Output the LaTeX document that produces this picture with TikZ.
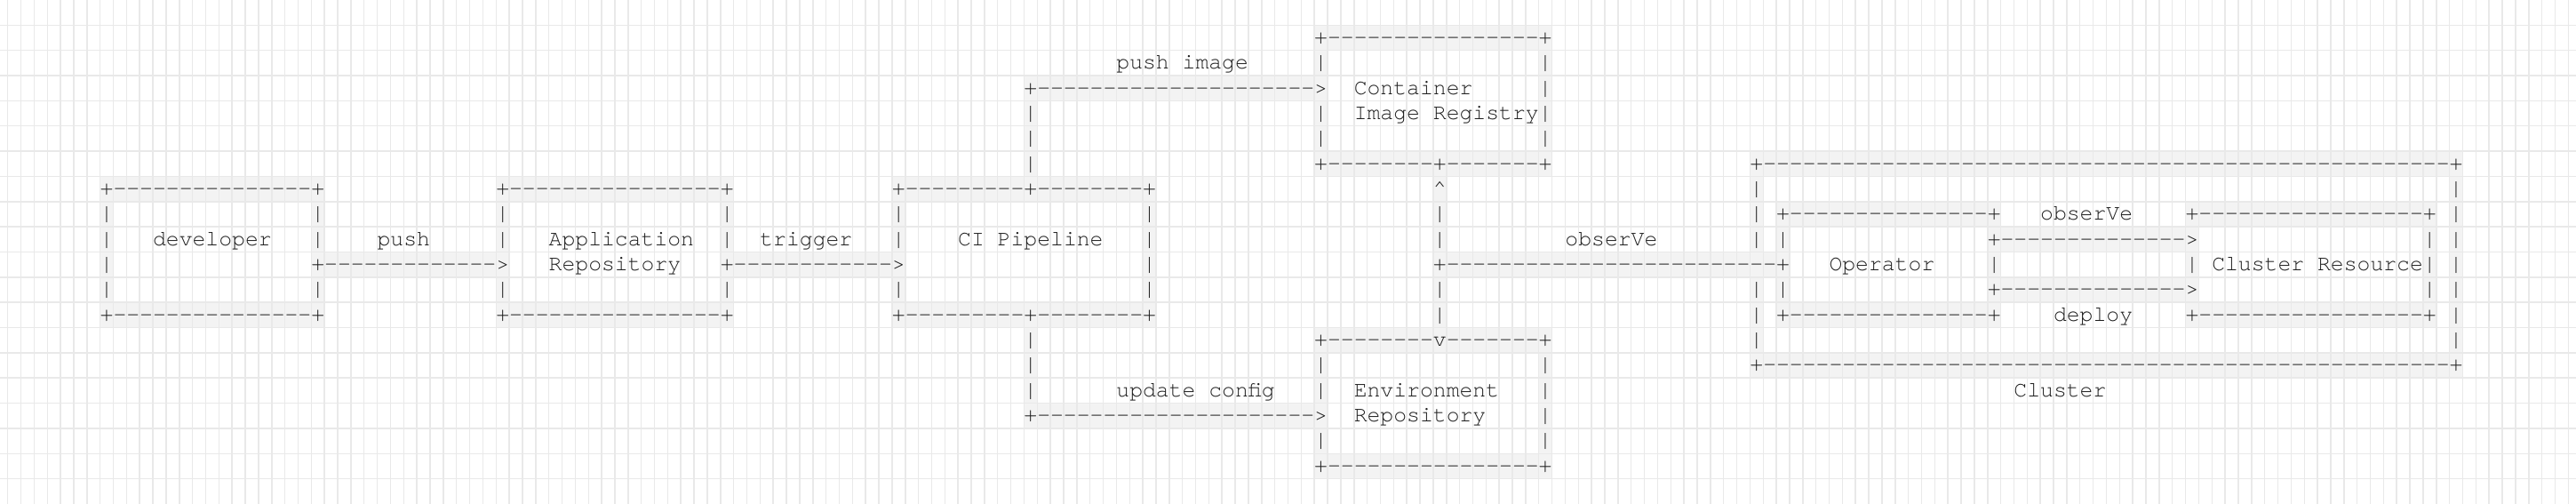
\documentclass[tikz,border=0pt]{standalone}
\usepackage{fontspec}
\setmonofont{texgyrecursor-regular.otf}
\definecolor{gridc}{HTML}{E9E9E9}
\definecolor{cellc}{HTML}{F3F3F3}
\definecolor{inkc}{HTML}{1E1E1E}
\tikzset{
  asch/.style={anchor=base, inner sep=0pt, outer sep=0pt, text=inkc,
    font=\ttfamily\fontsize{24.757pt}{28pt}\selectfont},
  aslbl/.style={anchor=base west, inner sep=0pt, outer sep=0pt, text=inkc,
    font=\ttfamily\fontsize{24.757pt}{28pt}\selectfont},
  cellfill/.style={fill=cellc},
  gridline/.style={draw=gridc, line width=1.5pt}
}
% pass 1: cell backgrounds; pass 2: characters and labels
\newcommand{\ascellfill}[3]{\fill[cellfill] (#2,#1) rectangle ++(1,1);}
\newcommand{\ascellchar}[3]{\node[asch, name=a#1x#2] at (#2+0.5,#1+0.741) {#3};}
\newcommand{\ascell}{}
\newcommand{\aslabel}{}
\newcommand{\aslabeltext}[4]{\node[aslbl] (#1) at (#3,#2+0.741) {#4};}
\newcommand{\aslabelnone}[4]{}
% horizontal run of dashes: row, first col, last col
\newcommand{\ashrun}[3]{\foreach \k in {#2,...,#3}{\ascell{#1}{\k}{-}}}
% vertical run of bars: col, first row, last row
\newcommand{\asvrun}[3]{\foreach \k in {#2,...,#3}{\ascell{\k}{#1}{|}}}
\newcommand{\artbody}{%
% ---- Container Image Registry
\ascell{-6}{92}{+}\ashrun{-6}{93}{108}\ascell{-6}{109}{+}%
\ascell{-5}{92}{|}\ascell{-4}{92}{>}\asvrun{92}{-3}{-2}%
\asvrun{109}{-5}{-2}%
\ascell{-1}{92}{+}\ashrun{-1}{93}{100}\ascell{-1}{101}{+}\ashrun{-1}{102}{108}\ascell{-1}{109}{+}%
\aslabel{reg1}{-4}{95}{Container}%
\aslabel{reg2}{-3}{95}{Image Registry}%
% ---- Environment Repository
\ascell{6}{92}{+}\ashrun{6}{93}{100}\ascell{6}{101}{v}\ashrun{6}{102}{108}\ascell{6}{109}{+}%
\asvrun{92}{7}{8}\ascell{9}{92}{>}\ascell{10}{92}{|}%
\asvrun{109}{7}{10}%
\ascell{11}{92}{+}\ashrun{11}{93}{108}\ascell{11}{109}{+}%
\aslabel{env1}{8}{95}{Environment}%
\aslabel{env2}{9}{95}{Repository}%
% ---- developer
\ascell{0}{0}{+}\ashrun{0}{1}{15}\ascell{0}{16}{+}%
\ascell{5}{0}{+}\ashrun{5}{1}{15}\ascell{5}{16}{+}%
\asvrun{0}{1}{4}%
\asvrun{16}{1}{2}\ascell{3}{16}{+}\ascell{4}{16}{|}%
\aslabel{dev}{2}{4}{developer}%
\ashrun{3}{17}{29}\ascell{3}{30}{>}%
\aslabel{lpush}{2}{21}{push}%
% ---- Application Repository
\ascell{0}{30}{+}\ashrun{0}{31}{46}\ascell{0}{47}{+}%
\ascell{5}{30}{+}\ashrun{5}{31}{46}\ascell{5}{47}{+}%
\asvrun{30}{1}{2}\ascell{4}{30}{|}%
\asvrun{47}{1}{2}\ascell{3}{47}{+}\ascell{4}{47}{|}%
\aslabel{app1}{2}{34}{Application}%
\aslabel{app2}{3}{34}{Repository}%
\ashrun{3}{48}{59}\ascell{3}{60}{>}%
\aslabel{ltrig}{2}{50}{trigger}%
% ---- CI Pipeline
\ascell{0}{60}{+}\ashrun{0}{61}{69}\ascell{0}{70}{+}\ashrun{0}{71}{78}\ascell{0}{79}{+}%
\ascell{5}{60}{+}\ashrun{5}{61}{69}\ascell{5}{70}{+}\ashrun{5}{71}{78}\ascell{5}{79}{+}%
\asvrun{60}{1}{2}\ascell{4}{60}{|}%
\asvrun{79}{1}{4}%
\aslabel{ci}{2}{65}{CI Pipeline}%
% push image line
\asvrun{70}{-3}{-1}\ascell{-4}{70}{+}\ashrun{-4}{71}{91}%
\aslabel{lpimg}{-5}{77}{push image}%
% update config line
\asvrun{70}{6}{8}\ascell{9}{70}{+}\ashrun{9}{71}{91}%
\aslabel{lupd}{8}{77}{update config}%
% observe line
\ascell{0}{101}{\textasciicircum}\asvrun{101}{1}{2}\ascell{3}{101}{+}\asvrun{101}{4}{5}%
\ashrun{3}{102}{126}%
\aslabel{lobs1}{2}{111}{obserVe}%
% ---- Cluster
\ascell{-1}{125}{+}\ashrun{-1}{126}{177}\ascell{-1}{178}{+}%
\ascell{7}{125}{+}\ashrun{7}{126}{177}\ascell{7}{178}{+}%
\asvrun{125}{0}{2}\asvrun{125}{4}{6}%
\asvrun{178}{0}{6}%
\aslabel{clu}{8}{145}{Cluster}%
% ---- Operator
\ascell{1}{127}{+}\ashrun{1}{128}{142}\ascell{1}{143}{+}%
\ascell{5}{127}{+}\ashrun{5}{128}{142}\ascell{5}{143}{+}%
\ascell{2}{127}{|}\ascell{3}{127}{+}\ascell{4}{127}{|}%
\ascell{2}{143}{+}\ascell{3}{143}{|}\ascell{4}{143}{+}%
\aslabel{op}{3}{131}{Operator}%
\ashrun{2}{144}{157}\ascell{2}{158}{>}%
\ashrun{4}{144}{157}\ascell{4}{158}{>}%
\aslabel{lobs2}{1}{147}{obserVe}%
\aslabel{ldep}{5}{148}{deploy}%
% ---- Cluster Resource
\ascell{1}{158}{+}\ashrun{1}{159}{175}\ascell{1}{176}{+}%
\ascell{5}{158}{+}\ashrun{5}{159}{175}\ascell{5}{176}{+}%
\ascell{3}{158}{|}%
\asvrun{176}{2}{4}%
\aslabel{cr}{3}{160}{Cluster Resource}%
}
\begin{document}
\begin{tikzpicture}[x=14.854pt, y=-28.35pt]
\useasboundingbox (-7.5851,-7) rectangle (187.5851,13);
\fill[white] (-7.5851,-7) rectangle (187.5851,13);
% pass 1: grey cell backgrounds
\let\ascell\ascellfill
\let\aslabel\aslabelnone
\artbody
% grid
\foreach \i in {-7,...,187} {\draw[gridline] (\i,-7) -- (\i,13);}
\foreach \j in {-6,...,12} {\draw[gridline] (-7.5851,\j) -- (187.5851,\j);}
% pass 2: characters and labels
\let\ascell\ascellchar
\let\aslabel\aslabeltext
\artbody
\end{tikzpicture}
\end{document}
